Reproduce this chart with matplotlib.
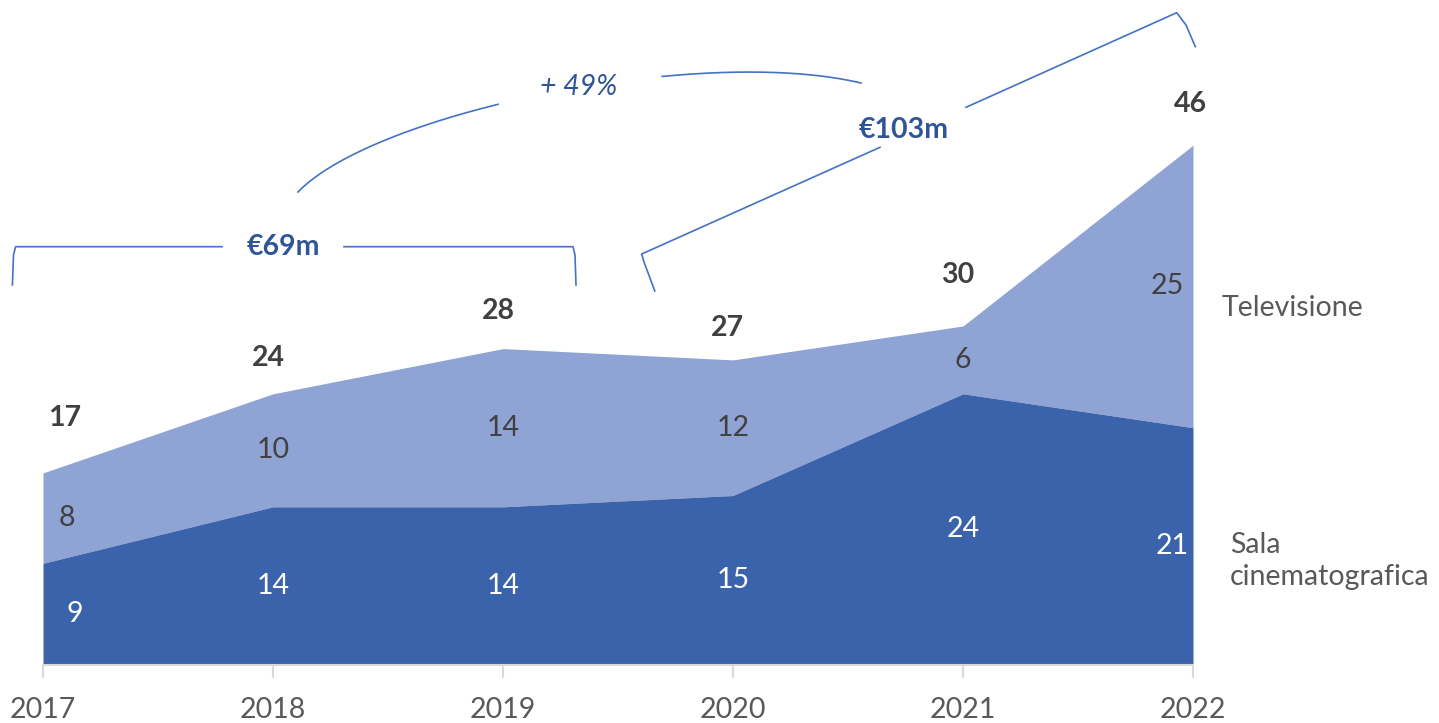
import numpy as np
import matplotlib
matplotlib.use("Agg")
import matplotlib.pyplot as plt

# ---------------- data ----------------
years = [2017, 2018, 2019, 2020, 2021, 2022]
sala = [9, 14, 14, 15, 24, 21]          # Sala cinematografica
tv = [8, 10, 14, 12, 6, 25]             # Televisione
totals = [17, 24, 28, 27, 30, 46]
series_names = ["Sala\ncinematografica", "Televisione"]
period_labels = ["€69m", "€103m"]
growth_label = "+ 49%"

# ---------------- style ----------------
FONT = ["Lato", "DejaVu Sans"]
plt.rcParams["font.family"] = FONT
C_DARK = "#3B63AB"
C_LIGHT = "#8FA3D4"
C_LINE = "#4472C4"
C_ANN = "#2F5597"
C_TXT = "#404040"
C_GRAY = "#595959"
FS = 20.5

W, H = 1439, 723
fig = plt.figure(figsize=(W / 100, H / 100), dpi=100)
px_per_unit = 11.3
base_px = 665
ax = fig.add_axes([43 / W, (H - base_px) / H, 1150 / W, base_px / H])
ax.set_xlim(years[0], years[-1])
ax.set_ylim(0, base_px / px_per_unit)

sala_a = np.array(sala)
tv_a = np.array(tv)
ax.fill_between(years, 0, sala_a, color=C_DARK, lw=0, zorder=2)
ax.fill_between(years, sala_a, sala_a + tv_a, color=C_LIGHT, lw=0, zorder=1)

for s in ["top", "right", "left"]:
    ax.spines[s].set_visible(False)
ax.spines["bottom"].set_color("#D9D9D9")
ax.spines["bottom"].set_linewidth(1.5)
ax.set_yticks([])
ax.set_xticks(years)
ax.set_xticklabels([str(y) for y in years], fontsize=FS, color=C_GRAY)
ax.tick_params(axis="x", length=9, width=1.5, color="#D9D9D9", pad=14)

# label x shifts (px) for first/last column
dx_dark = [32, 0, 0, 0, 0, -21]
dx_light = [24, 0, 0, 0, 0, -26]
dx_tot = [22, -5, -5, -6, -5, -3]
dy_tot = [55, 36, 38, 32, 51, 41]

for i, x in enumerate(years):
    ax.annotate(str(sala[i]), (x, sala[i] / 2), xytext=(dx_dark[i] * 0.72, 0),
                textcoords="offset points", ha="center", va="center",
                fontsize=FS, color="white", zorder=5)
    ax.annotate(str(tv[i]), (x, sala[i] + tv[i] / 2), xytext=(dx_light[i] * 0.72, 0),
                textcoords="offset points", ha="center", va="center",
                fontsize=FS, color=C_TXT, zorder=5)
    ax.annotate(str(totals[i]), (x, sala[i] + tv[i]),
                xytext=(dx_tot[i] * 0.72, dy_tot[i] * 0.72),
                textcoords="offset points", ha="center", va="center",
                fontsize=FS, fontweight="bold", color=C_TXT, zorder=5,
                annotation_clip=False)

# series labels on the right
ax.annotate(series_names[1], (years[-1], sala[-1] + tv[-1] * 0.5), xytext=(29 * 0.72, -22 * 0.72),
            textcoords="offset points", ha="left", va="center",
            fontsize=FS, color=C_GRAY, annotation_clip=False)
ax.annotate(series_names[0], (years[-1], sala[-1] * 0.5), xytext=(37 * 0.72, -15 * 0.72),
            textcoords="offset points", ha="left", va="center",
            fontsize=FS, color=C_GRAY, linespacing=1.3, annotation_clip=False)

# ---------------- overlay for brackets (pixel coords) ----------------
ov = fig.add_axes([0, 0, 1, 1], facecolor="none")
ov.set_xlim(0, W)
ov.set_ylim(H, 0)
ov.axis("off")
lw = 1.2

# bracket 1 (horizontal)
ov.plot([12.4, 13.5, 15.6, 222], [285, 255, 246.7, 246.7], color=C_LINE, lw=lw)
ov.plot([344, 573, 575, 576], [246.7, 246.7, 255, 285], color=C_LINE, lw=lw)
ov.text(283, 246.7, period_labels[0], ha="center", va="center", fontsize=FS,
        fontweight="bold", color=C_ANN)

# bracket 2 (rotated)
ov.plot([654.8, 644, 641.7, 880], [291, 262, 254, 147.3], color=C_LINE, lw=lw)
ov.plot([966, 1176.7, 1186, 1195.3], [107.3, 12.7, 25, 46.7], color=C_LINE, lw=lw)
ov.text(904, 130, period_labels[1], ha="center", va="center", fontsize=FS,
        fontweight="bold", color=C_ANN)

# connecting arc
P = np.array([[298, 192], [375, 112], [700, 45], [861, 83]], dtype=float)
t = np.linspace(0, 1, 400)[:, None]
B = ((1 - t) ** 3) * P[0] + 3 * ((1 - t) ** 2) * t * P[1] + 3 * (1 - t) * t ** 2 * P[2] + t ** 3 * P[3]
bx, by = B[:, 0].copy(), B[:, 1].copy()
gap = (bx > 499) & (bx < 661)
bx[gap] = np.nan
ov.plot(bx, by, color=C_LINE, lw=lw)
ov.text(579, 87, growth_label, ha="center", va="center", fontsize=FS,
        fontstyle="italic", color=C_ANN)

fig.savefig("out.png", dpi=100)
